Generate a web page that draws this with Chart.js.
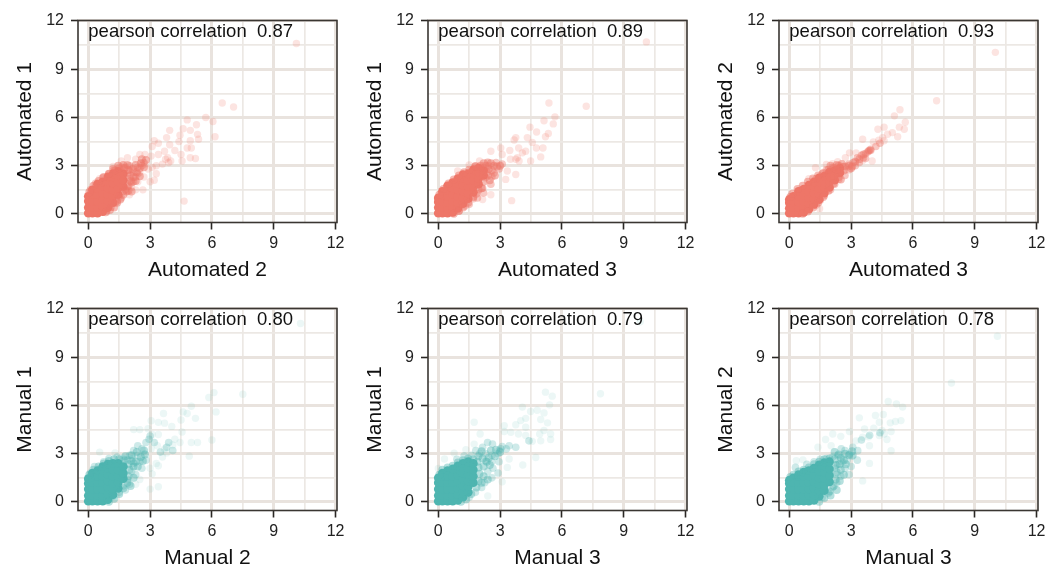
<!DOCTYPE html>
<html><head><meta charset="utf-8">
<script src="https://cdn.jsdelivr.net/npm/chart.js@4"></script>
<style>
html,body{margin:0;padding:0;background:#fff;width:1056px;height:565px;overflow:hidden}
canvas{position:absolute;filter:blur(0.4px)}
</style></head><body>
<script>
const tickValues=[0,1.5,3,4.5,6,7.5,9,10.5,12];
const labeledTicks=[0,3,6,9,12];
const xTitles=["Automated 2","Automated 3","Automated 3","Manual 2","Manual 3","Manual 3"];
const yTitles=["Automated 1","Automated 1","Automated 2","Manual 1","Manual 1","Manual 2"];
const correlations=["0.87","0.89","0.93","0.80","0.79","0.78"];

const a1Dense=[[0,.05],[0,.4],[0,.8],[0,1.1],[.2,.05],[.2,.4],[.2,.8],[.2,1.2],[.2,1.5],[.45,.05],[.45,.4],[.45,.8],[.45,1.2],[.45,1.6],[.45,1.85],[.7,.15],[.7,.5],[.7,.9],[.7,1.3],[.7,1.7],[.7,2],[.95,.4],[.95,.8],[.95,1.2],[.95,1.6],[.95,2],[.95,2.3],[1.2,.7],[1.2,1.1],[1.2,1.5],[1.2,1.9],[1.2,2.3],[1.2,2.5],[1.45,1.2],[1.45,1.6],[1.45,2],[1.45,2.4],[1.45,2.65],[1.7,1.7],[1.7,2.1],[1.7,2.5]];
const a1Halo=[[.85,.1],[1.05,.25],[1.25,.4],[1.4,.7],[1.55,.9],[1.7,1.2],[1.85,1.4],[1.95,1.75],[2.05,2.05],[2.05,2.4],[1.95,2.75],[1.75,2.85],[1.5,2.85],[1.25,2.7],[1,2.5],[.75,2.3],[.5,2.05],[.25,1.75],[.05,1.35],[2.2,2.3],[2.35,2.6],[2.15,2.8],[2.5,2.85],[2.3,3.05],[2.55,3.15],[2.7,2.9],[2.1,1.95],[2.3,2.05],[1.95,1.45],[2.1,1.4],[2.5,2.35],[1.9,3.05],[1.7,3.05],[1.45,3],[1.2,2.8],[2.8,3.35],[2.6,3.4]];
const a1Mid=[[1.8,2.9],[2,2.7],[2.2,2.6],[2,3],[2.4,2.9],[2.6,3],[2.7,3.2],[2.3,2.3],[2,2.2],[2.2,2],[1.9,1.7],[1.7,1.4],[1.5,1.1],[1.3,.7],[1.1,.4],[.9,.2],[1.6,2.9],[1.3,2.7],[1,2.5],[.7,2.25],[.35,1.9],[.1,1.5],[1.9,2.5],[2.4,2.5],[1.8,1.5],[1.6,1],[1.4,.8]];
const a1Sparse=[[10.1,10.6],[6.5,6.9],[7.05,6.65],[5.7,6],[6.05,5.75],[4.8,5.85],[5.25,5.55],[4.6,5.3],[4.95,5.2],[3.95,5.2],[4.45,4.9],[5.3,4.95],[5.35,4.65],[6.15,4.8],[4.95,4.55],[3.2,4.55],[3.8,4.75],[3.4,4.4],[4.4,4.5],[3.95,4.3],[4.8,4.1],[5,4.1],[3.1,4.2],[4.2,3.95],[3.7,3.9],[4.5,3.7],[3.4,3.7],[3.85,3.5],[4,3.3],[3.9,3.2],[3.75,3.4],[4.95,3.5],[5.2,3.45],[4.55,3.3],[4.65,.8],[3.05,3.6],[2.75,3.7],[2.5,3.7],[3.3,3],[3.1,2.9],[3.6,3.1],[3.3,2.5],[3.2,2.1],[3,2],[2.65,1.5],[2.4,2],[2.7,2.3],[2.9,2.8],[2.3,3.4],[1.9,3.5],[1.6,3.3],[1.2,2.95],[.55,2.2],[2,1.2],[2.3,1.5],[2.1,1.65],[2.5,2.6],[2.75,3.1],[2.2,2.9]];

const a2Dense=[[0,.05],[0,.4],[0,.75],[0,1],[.2,.05],[.2,.4],[.2,.8],[.2,1.15],[.2,1.4],[.45,.05],[.45,.35],[.45,.7],[.45,1.1],[.45,1.45],[.45,1.75],[.7,.1],[.7,.45],[.7,.8],[.7,1.2],[.7,1.6],[.7,1.95],[.95,.35],[.95,.7],[.95,1.1],[.95,1.5],[.95,1.9],[.95,2.2],[1.2,.65],[1.2,1],[1.2,1.4],[1.2,1.8],[1.2,2.2],[1.2,2.45],[1.45,.95],[1.45,1.3],[1.45,1.7],[1.45,2.1],[1.45,2.5],[1.7,1.35],[1.7,1.7],[1.7,2.1],[1.7,2.5],[1.7,2.75],[1.95,1.85],[1.95,2.2],[1.95,2.6],[1.95,2.85],[2.2,2.4],[2.2,2.7]];
const a2Halo=[[.75,.02],[1,.2],[1.2,.4],[1.45,.7],[1.7,1.05],[1.95,1.5],[2.2,2],[2.4,2.4],[2.45,2.8],[2.3,3],[2.05,3],[1.8,2.95],[1.5,2.75],[1.25,2.6],[1,2.4],[.75,2.15],[.5,1.9],[.25,1.55],[.05,1.2],[2.6,2.7],[2.7,3],[2.55,3.15],[2.85,2.95],[3,3],[2.75,2.4],[2.4,3.2],[2.2,3.15],[2.5,2.1],[2.1,1.6],[1.85,1.25]];
const a2Mid=[[2.8,3.2],[2.95,2.8],[3.1,3.1],[2.7,2.55],[2.45,3],[2.3,2.25],[2.55,1.85],[2.15,1.6],[1.9,1],[1.5,.6],[1,.17],[2.2,2.85],[2.05,2.9],[1.8,3],[2.35,2.6],[2.6,2.3],[2.2,1.3],[1.7,.95],[1.3,.5]];
const a2Sparse=[[10.1,10.7],[5.37,6.9],[7.18,6.7],[5.66,6.04],[5.13,5.8],[5.58,5.6],[4.45,5.4],[4.77,5.1],[5.34,5],[5.2,4.8],[4.32,4.75],[3.76,4.75],[4.56,4.45],[3.68,4.6],[5.08,4.1],[4.76,4.1],[3.47,3.95],[3.9,4.1],[4.24,3.9],[4.97,3.55],[4.48,3.3],[3.84,3.5],[3.92,3.3],[3.76,3.4],[3.03,4.1],[3.1,3.7],[2.55,3.9],[2,3.3],[.94,2.67],[3.56,.83],[3.27,2.15],[3.76,2.45],[2.55,1.2],[2.15,.9],[3.5,3.4],[1.5,3.05],[4.08,3.8],[3.35,2.67]];

const a3Dense=[[0,.05],[0,.35],[0,.7],[0,.9],[.2,.05],[.2,.4],[.2,.75],[.2,1.1],[.45,.05],[.45,.4],[.45,.75],[.45,1.1],[.45,1.4],[.7,.1],[.7,.45],[.7,.8],[.7,1.15],[.7,1.55],[.95,.3],[.95,.65],[.95,1],[.95,1.4],[.95,1.8],[1.2,.6],[1.2,.95],[1.2,1.3],[1.2,1.7],[1.2,2],[1.45,.9],[1.45,1.25],[1.45,1.6],[1.45,2],[1.45,2.25],[1.7,1.3],[1.7,1.65],[1.7,2],[1.7,2.35],[1.95,1.65],[1.95,2],[1.95,2.35],[1.95,2.6],[2.2,2.1],[2.2,2.4],[2.2,2.7],[2.45,2.55],[2.45,2.85]];
const a3Halo=[[.65,.02],[.9,.15],[1.15,.4],[1.4,.7],[1.65,1.05],[1.9,1.45],[2.15,1.9],[2.4,2.3],[2.65,2.7],[2.7,2.95],[2.4,3],[2.15,2.85],[1.9,2.75],[1.65,2.55],[1.4,2.4],[1.15,2.2],[.9,2],[.65,1.75],[.4,1.55],[.15,1.25],[.05,1.05],[2.9,3],[3.05,2.95],[3.2,3.25],[3.4,3.4],[3,2.85],[2.55,3.1],[2.3,3.05],[2,3],[3.6,3.7],[2.5,2.15]];
const a3Mid=[[3.89,3.96],[3.95,4.02],[3.85,3.92],[3.8,3.85],[3.95,3.95],[3.7,3.75],[3.5,3.65],[3.3,3.5],[3.1,3.2],[2.9,3.1],[3.4,3.2],[3.2,3],[2.6,2.95],[2.9,2.75],[2.5,2.65],[2.3,2.75],[2.1,2.9],[1.8,2.75],[2.7,2.4],[2.4,2.15],[2.2,1.85],[2,1.5],[1.7,1.15],[1.5,.85],[1.3,.55],[1.6,2.5],[1.3,2.2],[3.6,3.5],[4.2,4.2],[4.4,4.4],[3.7,3.45]];
const a3Sparse=[[10,10.05],[7.15,7.04],[5.37,6.48],[5.1,6.1],[5.63,5.7],[4.6,5.4],[4.3,5.27],[5.34,5.4],[5.58,5.27],[5.26,4.8],[5,5.06],[4.77,4.96],[4.53,4.75],[4.6,4.55],[3.56,4.65],[4.08,4.48],[4.34,4.58],[4.02,3.3],[3.56,3.33],[2.92,3.8],[2.35,3.25],[1.8,3.08],[1.27,2.87],[.95,2.2],[1.47,.33],[3.24,3.8],[2.72,3.5],[2.1,3.12]];

const m1Dense=[[0,.05],[0,.4],[0,.8],[0,1.15],[0,1.45],[.2,.05],[.2,.4],[.2,.8],[.2,1.2],[.2,1.55],[.2,1.8],[.45,.05],[.45,.4],[.45,.8],[.45,1.2],[.45,1.6],[.45,1.95],[.7,.05],[.7,.4],[.7,.8],[.7,1.2],[.7,1.6],[.7,2],[.7,2.2],[.95,.15],[.95,.5],[.95,.9],[.95,1.3],[.95,1.7],[.95,2.1],[.95,2.35],[1.2,.45],[1.2,.8],[1.2,1.2],[1.2,1.6],[1.2,2],[1.2,2.4],[1.45,.85],[1.45,1.2],[1.45,1.6],[1.45,2],[1.45,2.4],[1.7,1.45],[1.7,1.8],[1.7,2.2]];
const m1Halo=[[1,.02],[1.25,.2],[1.5,.5],[1.7,.85],[1.9,1.2],[1.95,1.6],[2,2],[1.95,2.35],[1.75,2.6],[1.5,2.65],[1.25,2.65],[1,2.55],[.75,2.4],[.5,2.2],[.25,2],[.05,1.7],[2.2,2.2],[2.3,2.5],[2.1,2.55],[2.55,2.8],[2.4,2.2],[2.65,2.55],[2.2,1.5],[2.05,1],[1.8,2.85],[2.1,2.9],[2.35,3.1],[2.7,3.2],[2.75,2.95]];
const m1Mid=[[2.4,3.5],[2.8,3.7],[2.95,3.9],[3,4.1],[3.2,3.7],[3.5,3.1],[3.9,3.7],[4.1,3.2],[3.8,3.4],[2.6,3.3],[2.2,3.2],[2,2.9],[2.4,2.9],[1.7,2.7],[1.4,2.8],[1,2.7],[2.8,2.6],[2.5,2.5],[2.2,2.4],[2.6,2.1],[2.1,1.9],[2.3,1.7],[1.9,1.4],[1.7,1],[1.5,.6],[1.2,.35],[1.9,2.6],[2.15,2.7],[.3,2.2],[.1,1.8],[.75,2.5],[2,1.1],[1.8,.75]];
const m1Sparse=[[10.3,11.1],[7.5,6.7],[6.1,6.8],[5.85,6.5],[5,5.95],[4.6,5.6],[6.2,5.6],[4.8,5.5],[3.65,5.5],[5.2,5.2],[4.5,5.1],[3.05,5.05],[3.4,4.95],[3.7,4.9],[4.05,4.7],[2.2,4.5],[2.5,4.5],[2.9,4.55],[3.4,4.2],[3.1,4.2],[4.55,4.35],[5,3.7],[5.3,3.7],[6,3.85],[4.2,3.9],[4.45,3.7],[4.1,3.55],[3.7,3.3],[3.35,3.5],[3.05,3.3],[2.7,3],[3.8,3.05],[4.9,2.85],[3.6,2.8],[3.3,2.4],[3,2.1],[3.4,2.25],[3.4,.95],[3,.8],[3.1,1.75],[1.3,3.05],[.55,3.1],[2.3,1.1],[2.5,1.4]];

const m2Dense=[[0,.05],[0,.4],[0,.8],[0,1.2],[0,1.5],[.2,.05],[.2,.4],[.2,.8],[.2,1.2],[.2,1.6],[.2,1.8],[.45,.05],[.45,.4],[.45,.8],[.45,1.2],[.45,1.6],[.45,1.95],[.7,.05],[.7,.4],[.7,.8],[.7,1.2],[.7,1.6],[.7,2.05],[.95,.1],[.95,.45],[.95,.85],[.95,1.25],[.95,1.65],[.95,2.05],[.95,2.25],[1.2,.3],[1.2,.65],[1.2,1],[1.2,1.4],[1.2,1.8],[1.2,2.2],[1.2,2.4],[1.45,.6],[1.45,.95],[1.45,1.3],[1.45,1.7],[1.45,2.1],[1.45,2.5],[1.7,1.2],[1.7,1.6],[1.7,2],[1.7,2.4]];
const m2Halo=[[1.1,.02],[1.35,.15],[1.6,.5],[1.85,.9],[1.95,1.3],[2,1.75],[1.95,2.15],[1.9,2.5],[1.7,2.65],[1.45,2.7],[1.2,2.6],[.95,2.45],[.7,2.25],[.45,2.15],[.2,2],[.05,1.7],[2.2,2.2],[2.35,2.5],[2.15,2.7],[2.5,2.3],[2.75,2.85],[2.45,2.75],[2.2,1.6],[2.4,1.4],[1.95,2.85],[2.1,3.15],[2.55,3.2],[2.8,3.25],[3,3.1],[2.1,1.2]];
const m2Mid=[[3.03,3.3],[2.95,3.2],[3.44,3.5],[3.76,3.4],[2.63,3.6],[2.39,3.7],[2.15,3.4],[1.82,3.2],[2.9,3],[2.6,2.9],[2.3,3],[2,3],[1.6,2.9],[1.25,2.85],[.9,2.65],[2.95,2.5],[2.6,2.5],[2.3,2.55],[2.65,2.1],[2.9,1.8],[2.4,1.9],[2.6,1.5],[2.25,1.2],[2.1,.9],[1.8,.6],[1.5,.3],[3.1,3.45],[3.3,3.3],[4.4,3.8]];
const m2Sparse=[[9.8,11.2],[7.87,6.73],[5.2,6.83],[5.53,6.58],[4.08,5.9],[5.4,6.04],[4.48,5.63],[4.8,5.7],[5.13,5.54],[1.74,4.96],[4.24,5.2],[4.97,5.13],[5.3,4.92],[4,5.06],[3.76,4.8],[4.24,4.65],[3.2,4.75],[5.45,4.23],[5.13,4.44],[4.92,4.23],[5.45,3.88],[4.97,3.8],[4.56,3.77],[4.24,4.13],[3.89,4.23],[3.52,4.33],[3.2,4.38],[2.03,4.23],[4.73,2.77],[4.1,2.3],[3.35,2.15],[3.44,2.67],[3.1,1.25],[2.4,.37],[.3,2.67],[0,2.08],[.77,3.04],[1.34,3.25],[1.74,3.6]];

const m3Dense=[[0,.05],[0,.4],[0,.8],[0,1.15],[0,1.35],[.2,.05],[.2,.4],[.2,.8],[.2,1.2],[.2,1.5],[.45,.05],[.45,.4],[.45,.8],[.45,1.2],[.45,1.6],[.45,1.7],[.7,.05],[.7,.4],[.7,.8],[.7,1.2],[.7,1.6],[.7,1.85],[.95,.05],[.95,.4],[.95,.8],[.95,1.2],[.95,1.6],[.95,1.95],[1.2,.1],[1.2,.45],[1.2,.85],[1.2,1.25],[1.2,1.65],[1.2,2.1],[1.45,.35],[1.45,.7],[1.45,1.1],[1.45,1.5],[1.45,1.9],[1.45,2.3],[1.7,.7],[1.7,1.05],[1.7,1.45],[1.7,1.85],[1.7,2.25],[1.7,2.45],[1.95,1.25],[1.95,1.65],[1.95,2.05],[1.95,2.5]];
const m3Halo=[[1.45,.02],[1.7,.25],[1.95,.65],[2.15,1],[2.25,1.4],[2.3,1.85],[2.25,2.3],[2.2,2.65],[1.95,2.7],[1.7,2.65],[1.45,2.5],[1.2,2.35],[.95,2.15],[.7,2],[.45,1.9],[.2,1.7],[.05,1.55],[2.5,2],[2.45,2.35],[2.65,2.6],[2.5,2.75],[2.4,2.95],[2.75,2.35],[2.9,2.9],[2.45,1.3],[2.65,1.7],[2.2,3.1],[2.7,3],[3.05,3.15],[2.3,.75],[2,.4]];
const m3Mid=[[3.08,3.4],[3.32,3.19],[2.92,2.98],[2.52,3.3],[2.35,2.88],[3.1,2.9],[3.3,2.6],[2.8,2.6],[3,2.2],[2.7,2.1],[2.9,1.7],[2.5,1.6],[2.3,1.2],[2.1,.9],[1.9,.55],[1.6,.3],[2.55,2.5],[2.1,2.8],[1.8,2.7],[1.5,2.65],[1.2,2.5],[.85,2.35],[3.9,4.15],[4.4,4.3],[3.5,3.85],[2.7,3.2],[.3,2.15],[2.3,1.7],[2.2,2.1],[2.35,2.35],[3.05,2.85]];
const m3Sparse=[[10.1,10.3],[7.87,7.4],[4.8,6.25],[5.2,6.1],[5.5,5.9],[4.18,5.38],[4.56,5.44],[3.4,5.23],[5.42,5.06],[5.15,5],[4.9,4.92],[4.37,4.96],[4.5,4.44],[4.1,4.58],[3.65,4.54],[4.94,4.38],[2.92,4.38],[2.11,4.23],[2.5,4.08],[1.76,3.88],[1.39,3.4],[4.74,3.88],[3.85,4.06],[3.56,4.02],[3.24,3.8],[3.89,3.5],[4.94,3.19],[4.37,4.13],[3.89,2.4],[3.56,1.31],[.34,2.56],[.66,2.62],[2.03,3.5],[4.61,4.23]];

const denseSets=[a1Dense,a2Dense,a3Dense,m1Dense,m2Dense,m3Dense];
const haloSets=[a1Halo,a2Halo,a3Halo,m1Halo,m2Halo,m3Halo];
const midSets=[a1Mid,a2Mid,a3Mid,m1Mid,m2Mid,m3Mid];
const sparseSets=[a1Sparse,a2Sparse,a3Sparse,m1Sparse,m2Sparse,m3Sparse];

const FONT='"Liberation Sans", Arial, sans-serif';
const CANVAS_W=350,CANVAS_H=283;
const lefts=[0,350,701],tops=[0,288];
const coral=a=>`rgba(238,118,104,${a})`;
const teal=a=>`rgba(78,181,176,${a})`;
const toPts=l=>l.map(p=>({x:p[0],y:p[1]}));
const isMajor=v=>labeledTicks.includes(v);

const frame={id:'frame',
  afterDatasetsDraw(c,args,o){
    const {ctx,chartArea:a,scales}=c;
    ctx.save();
    ctx.fillStyle='#111';ctx.font='18.5px '+FONT;ctx.textAlign='left';ctx.textBaseline='middle';
    ctx.fillText('pearson correlation  '+o.r,scales.x.getPixelForValue(0),scales.y.getPixelForValue(11.3));
    ctx.strokeStyle='#3a3632';ctx.lineWidth=1.6;
    ctx.strokeRect(a.left,a.top,a.right-a.left,a.bottom-a.top);
    ctx.restore();
  }};

function axis(title,isY){
  return {
    type:'linear',
    min:isY?-0.53:-0.5, max:isY?12.03:12.07,
    afterBuildTicks(s){s.ticks=tickValues.map(v=>({value:v}));},
    afterFit(s){ if(isY) s.width=78; else s.height=CANVAS_H-222.5; },
    border:{display:false},
    grid:{
      drawOnChartArea:true,drawTicks:true,tickLength:7,
      color:c=>isMajor(c.tick.value)?'#e9e3de':'#ece8e4',
      lineWidth:c=>isMajor(c.tick.value)?3:1.7,
      tickColor:c=>isMajor(c.tick.value)?'#2a2724':'rgba(0,0,0,0)',
      tickWidth:c=>isMajor(c.tick.value)?1.6:0
    },
    ticks:{
      autoSkip:false,maxRotation:0,minRotation:0,padding:isY?7:4,
      color:'#222',font:{family:FONT,size:16},
      callback:v=>isMajor(v)?String(v):''
    },
    title:{display:true,text:title,color:'#111',font:{family:FONT,size:21},padding:isY?{top:13,bottom:0}:{top:0,bottom:0}}
  };
}

for(let i=0;i<6;i++){
  const cv=document.createElement('canvas');
  cv.width=CANVAS_W;cv.height=CANVAS_H;
  cv.style.cssText=`left:${lefts[i%3]}px;top:${tops[i<3?0:1]}px;width:${CANVAS_W}px;height:${CANVAS_H}px`;
  document.body.appendChild(cv);
  const col=i<3?coral:teal;
  const aS=i<3?0.2:0.11,aM=i<3?0.4:0.28,aH=i<3?0.5:0.42;
  new Chart(cv,{
    type:'scatter',
    data:{datasets:[
      {data:toPts(sparseSets[i]),backgroundColor:col(aS),borderWidth:0,pointRadius:3.7},
      {data:toPts(midSets[i]),backgroundColor:col(aM),borderWidth:0,pointRadius:3.8},
      {data:toPts(haloSets[i]),backgroundColor:col(aH),borderWidth:0,pointRadius:4},
      {data:toPts(denseSets[i]),backgroundColor:col(1),borderWidth:0,pointRadius:4.4}
    ]},
    options:{
      responsive:false,animation:false,devicePixelRatio:1,
      layout:{padding:{left:0,right:13,top:20.5,bottom:0}},
      plugins:{legend:{display:false},tooltip:{enabled:false},frame:{r:correlations[i]}},
      scales:{x:axis(xTitles[i],false),y:axis(yTitles[i],true)}
    },
    plugins:[frame]
  });
}
</script>
</body></html>
